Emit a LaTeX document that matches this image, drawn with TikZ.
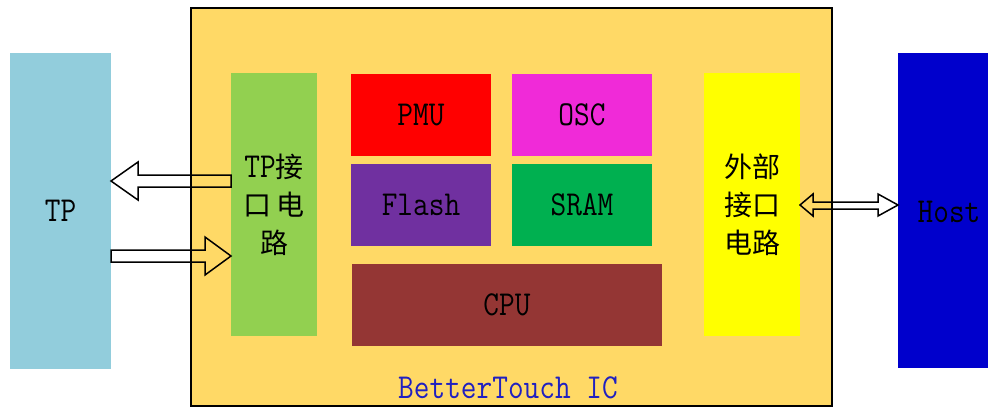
\documentclass[tikz,border=0pt]{standalone}
\usepackage{fontspec}
\newfontfamily\latf[FakeStretch=0.87]{Latin Modern Mono}
\newfontfamily\cjkf{Noto Sans CJK SC}
\definecolor{icbg}{HTML}{FFD966}
\definecolor{tpc}{HTML}{92CDDC}
\definecolor{hostc}{HTML}{0000CC}
\definecolor{greenc}{HTML}{92D050}
\definecolor{pmuc}{HTML}{FF0000}
\definecolor{oscc}{HTML}{F02AD8}
\definecolor{flashc}{HTML}{7030A0}
\definecolor{sramc}{HTML}{00B050}
\definecolor{cpuc}{HTML}{943634}
\definecolor{yelc}{HTML}{FFFF00}
\definecolor{icblue}{HTML}{2020C0}
\tikzset{
  blk/.style={rectangle, inner sep=0pt, outer sep=0pt, draw=none, text=black,
    font=\latf\fontsize{35}{40}\selectfont},
  cjkblk/.style={blk, align=center, font=\cjkf\fontsize{28}{38}\selectfont},
  barrow/.style={draw=black, line width=1.5pt, line join=miter, fill=none}
}
\begin{document}
\begin{tikzpicture}[x=1pt,y=-1pt]
\useasboundingbox (0,0) rectangle (988,407);
\node[blk, fill=icbg, draw=black, line width=1.5pt, minimum width=641pt, minimum height=398pt] (ic) at (511.5,207) {};
\node[blk, text=icblue] (iclabel) at (508,388) {BetterTouch IC};
\node[blk, fill=tpc, minimum width=101pt, minimum height=316pt] (tp) at (60.5,211) {TP};
\node[blk, fill=hostc, minimum width=90pt, minimum height=315pt] (host) at (943,210.5) {};
\node[blk] (hostlabel) at (949,212) {Host};
\node[cjkblk, fill=greenc, minimum width=86pt, minimum height=263pt] (tpif) at (274,204.5) {{\latf\fontsize{35}{38}\selectfont TP}接\\口\hspace{6pt}电\\路};
\node[cjkblk, fill=yelc, minimum width=96pt, minimum height=263pt] (extif) at (752,204.5) {外部\\接口\\电路};
\node[blk, fill=pmuc, minimum width=140pt, minimum height=82pt] (pmu) at (421,115) {PMU};
\node[blk, fill=oscc, minimum width=140pt, minimum height=82pt] (osc) at (582,115) {OSC};
\node[blk, fill=flashc, minimum width=140pt, minimum height=82pt] (flash) at (421,205) {Flash};
\node[blk, fill=sramc, minimum width=140pt, minimum height=82pt] (sram) at (582,205) {SRAM};
\node[blk, fill=cpuc, minimum width=310pt, minimum height=82pt] (cpu) at (507,305) {CPU};
% block arrows
\draw[barrow] (tpif.west |- 0,175) -- (138,175) -- (138,162) -- (tp.east |- 0,181) -- (138,200) -- (138,187) -- (tpif.west |- 0,187) -- cycle;
\draw[barrow] (tp.east |- 0,250) -- (205,250) -- (205,237) -- (tpif.west |- 0,256) -- (205,275) -- (205,262) -- (tp.east |- 0,262) -- cycle;
\draw[barrow] (extif.east |- 0,205) -- (813,194) -- (813,202) -- (878,202) -- (878,194) -- (host.west |- 0,205) -- (878,216) -- (878,209) -- (813,209) -- (813,216) -- cycle;
\end{tikzpicture}
\end{document}
